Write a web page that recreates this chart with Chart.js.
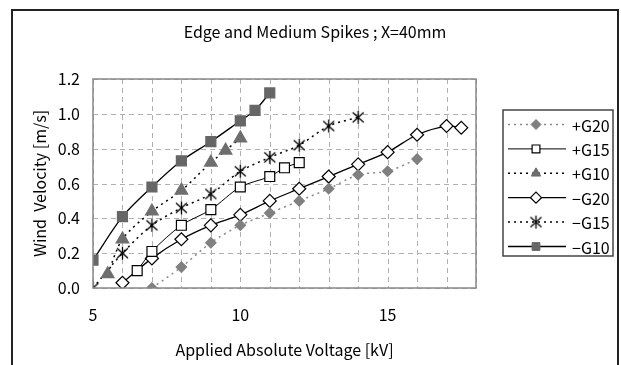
<!DOCTYPE html>
<html lang="en">
<head>
    <meta charset="UTF-8">
    <title>Edge and Medium Spikes ; X=40mm</title>
    <script src="https://cdn.jsdelivr.net/npm/chart.js"></script>
    <style>
        body { margin: 0; background: #fff; }
        #box { width: 621px; height: 365px; }
    </style>
</head>
<body>
    <div id="box"><canvas id="grafica"></canvas></div>

    <script>
        // series labels
        var nombres = ['+G20', '+G15', '+G10', '\u2212G20', '\u2212G15', '\u2212G10'];

        // applied voltage [kV] and wind velocity [m/s] for each series
        var vPosG20 = [7, 8, 9, 10, 11, 12, 13, 14, 15, 16];
        var wPosG20 = [0.00, 0.12, 0.26, 0.36, 0.43, 0.50, 0.57, 0.65, 0.67, 0.74];

        var vPosG15 = [6.5, 7, 8, 9, 10, 11, 11.5, 12];
        var wPosG15 = [0.10, 0.21, 0.36, 0.45, 0.58, 0.64, 0.69, 0.72];

        var vPosG10 = [5.5, 6, 7, 8, 9, 9.5, 10];
        var wPosG10 = [0.08, 0.28, 0.44, 0.56, 0.72, 0.79, 0.86];

        var vNegG20 = [6, 7, 8, 9, 10, 11, 12, 13, 14, 15, 16, 17, 17.5];
        var wNegG20 = [0.03, 0.17, 0.28, 0.36, 0.42, 0.50, 0.57, 0.64, 0.71, 0.78, 0.88, 0.93, 0.92];

        var vNegG15 = [5, 6, 7, 8, 9, 10, 11, 12, 13, 14];
        var wNegG15 = [0.00, 0.20, 0.36, 0.46, 0.54, 0.67, 0.75, 0.82, 0.93, 0.98];

        var vNegG10 = [5, 6, 7, 8, 9, 10, 10.5, 11];
        var wNegG10 = [0.16, 0.41, 0.58, 0.73, 0.84, 0.96, 1.02, 1.12];

        var xTicks = [5, 10, 15];

        var titulo = 'Edge and Medium Spikes ; X=40mm';
        var fuente = '"Noto Sans CJK JP", "DejaVu Sans", sans-serif';

        function pares(xs, ys) {
            return xs.map(function(x, i) { return { x: x, y: ys[i] }; });
        }

        // asterisk marker (vertical stroke + X)
        function asterisco() {
            var c = document.createElement('canvas');
            c.width = 15; c.height = 15;
            var g = c.getContext('2d');
            g.strokeStyle = '#000';
            g.lineWidth = 1.3;
            g.beginPath();
            g.moveTo(7.5, 1); g.lineTo(7.5, 14);
            g.moveTo(2, 2.5); g.lineTo(13, 12.5);
            g.moveTo(13, 2.5); g.lineTo(2, 12.5);
            g.stroke();
            return c;
        }

        var datasets = [
            { label: nombres[0], data: pares(vPosG20, wPosG20), borderColor: '#8a8a8a', borderWidth: 1.5, borderDash: [2, 4],
              pointStyle: 'rectRot', pointRadius: 5, pointBackgroundColor: '#808080', pointBorderColor: '#808080', tension: 0.3 },
            { label: nombres[1], data: pares(vPosG15, wPosG15), borderColor: '#000', borderWidth: 1,
              pointStyle: 'rect', pointRadius: 7, pointBackgroundColor: '#fff', pointBorderColor: '#000', pointBorderWidth: 1.2, tension: 0.3 },
            { label: nombres[2], data: pares(vPosG10, wPosG10), borderColor: '#000', borderWidth: 1.5, borderDash: [2, 4],
              pointStyle: 'triangle', pointRadius: 7, pointBackgroundColor: '#6e6e6e', pointBorderColor: '#6e6e6e', tension: 0.3 },
            { label: nombres[3], data: pares(vNegG20, wNegG20), borderColor: '#000', borderWidth: 1.3,
              pointStyle: 'rectRot', pointRadius: 6.5, pointBackgroundColor: '#fff', pointBorderColor: '#000', pointBorderWidth: 1.2, tension: 0.3 },
            { label: nombres[4], data: pares(vNegG15, wNegG15), borderColor: '#000', borderWidth: 1.5, borderDash: [2, 4],
              pointStyle: asterisco(), pointRadius: 7, tension: 0.3 },
            { label: nombres[5], data: pares(vNegG10, wNegG10), borderColor: '#000', borderWidth: 1.3,
              pointStyle: 'rect', pointRadius: 7, pointBackgroundColor: '#666', pointBorderColor: '#666', tension: 0.3 }
        ];

        var marco = {
            id: 'marco',
            beforeDraw: function(chart) {
                var ctx = chart.ctx;
                ctx.save();
                ctx.fillStyle = '#fff';
                ctx.fillRect(0, 0, chart.width, chart.height);
                ctx.restore();
            },
            beforeDatasetsDraw: function(chart) {
                // dashed grid from the scales' ticks
                var ctx = chart.ctx, a = chart.chartArea;
                var sx = chart.scales.x, sy = chart.scales.y;
                ctx.save();
                ctx.strokeStyle = '#b0b0b0';
                ctx.lineWidth = 1;
                ctx.setLineDash([5, 4]);
                ctx.beginPath();
                sx.ticks.forEach(function(t) {
                    var px = Math.round(sx.getPixelForValue(t.value)) + 0.5;
                    ctx.moveTo(px, a.top); ctx.lineTo(px, a.bottom);
                });
                sy.ticks.forEach(function(t) {
                    var py = Math.round(sy.getPixelForValue(t.value)) + 0.5;
                    ctx.moveTo(a.left, py); ctx.lineTo(a.right, py);
                });
                ctx.stroke();
                ctx.restore();
            },
            afterDraw: function(chart) {
                var ctx = chart.ctx, a = chart.chartArea;
                ctx.save();
                // plot frame
                ctx.strokeStyle = '#888';
                ctx.lineWidth = 1.5;
                ctx.strokeRect(a.left, a.top, a.right - a.left, a.bottom - a.top);
                // outer frame
                ctx.strokeStyle = '#222';
                ctx.lineWidth = 2;
                ctx.strokeRect(12, 10, 606, 370);

                // title
                ctx.fillStyle = '#000';
                ctx.font = '16px ' + fuente;
                ctx.textAlign = 'center';
                ctx.textBaseline = 'middle';
                ctx.fillText(titulo, 315, 32);

                // legend
                var lx = 503, ly = 110, lw = 110, lh = 146;
                ctx.strokeStyle = '#444';
                ctx.lineWidth = 1.5;
                ctx.strokeRect(lx, ly, lw, lh);
                ctx.textAlign = 'left';
                chart.data.datasets.forEach(function(ds, i) {
                    var y = 124.5 + i * 24.4;
                    ctx.save();
                    ctx.strokeStyle = ds.borderColor;
                    ctx.lineWidth = ds.borderWidth;
                    ctx.setLineDash(ds.borderDash || []);
                    ctx.beginPath();
                    ctx.moveTo(508, y); ctx.lineTo(566, y);
                    ctx.stroke();
                    ctx.setLineDash([]);
                    var r = Math.min(ds.pointRadius, 5.5);
                    if (ds.pointStyle instanceof HTMLCanvasElement) {
                        ctx.drawImage(ds.pointStyle, 536 - 7.5, y - 7.5);
                    } else {
                        ctx.fillStyle = ds.pointBackgroundColor;
                        ctx.strokeStyle = ds.pointBorderColor;
                        ctx.lineWidth = ds.pointBorderWidth || 1;
                        Chart.helpers.drawPoint(ctx, { pointStyle: ds.pointStyle, radius: r, borderWidth: ds.pointBorderWidth || 1, rotation: 0 }, 536, y);
                    }
                    ctx.restore();
                    ctx.fillStyle = '#000';
                    ctx.fillText(ds.label, 572, y + 1);
                });
                ctx.restore();
            }
        };

        new Chart(document.getElementById('grafica').getContext('2d'), {
            type: 'line',
            data: { datasets: datasets },
            options: {
                responsive: true,
                maintainAspectRatio: false,
                animation: false,
                layout: { padding: { left: 12, right: 145, top: 79, bottom: 0 } },
                plugins: {
                    legend: { display: false },
                    tooltip: { enabled: false },
                    title: { display: false }
                },
                scales: {
                    x: {
                        type: 'linear',
                        min: 5, max: 18,
                        afterFit: function(s) { s.height = 77; },
                        afterBuildTicks: function(s) {
                            s.ticks = [];
                            for (var v = 5; v <= 18; v++) s.ticks.push({ value: v });
                        },
                        ticks: {
                            autoSkip: false,
                            maxRotation: 0,
                            padding: 17,
                            color: '#000',
                            font: { family: fuente, size: 16 },
                            callback: function(v) { return xTicks.indexOf(v) >= 0 ? String(v) : ''; }
                        },
                        grid: { display: false, drawTicks: false },
                        border: { display: false },
                        title: {
                            display: true,
                            text: 'Applied Absolute Voltage [kV]',
                            color: '#000',
                            font: { family: fuente, size: 16 },
                            padding: { top: 0, bottom: 5.4 }
                        }
                    },
                    y: {
                        min: 0, max: 1.2,
                        afterFit: function(s) { s.width = 81; },
                        ticks: {
                            stepSize: 0.2,
                            padding: 13,
                            color: '#000',
                            font: { family: fuente, size: 16 },
                            callback: function(v) { return v.toFixed(1); }
                        },
                        grid: { display: false, drawTicks: false },
                        border: { display: false },
                        title: {
                            display: true,
                            text: 'Wind  Velocity [m/s]',
                            color: '#000',
                            font: { family: fuente, size: 16 },
                            padding: { top: 18.4, bottom: 0 }
                        }
                    }
                }
            },
            plugins: [marco]
        });
    </script>
</body>
</html>
